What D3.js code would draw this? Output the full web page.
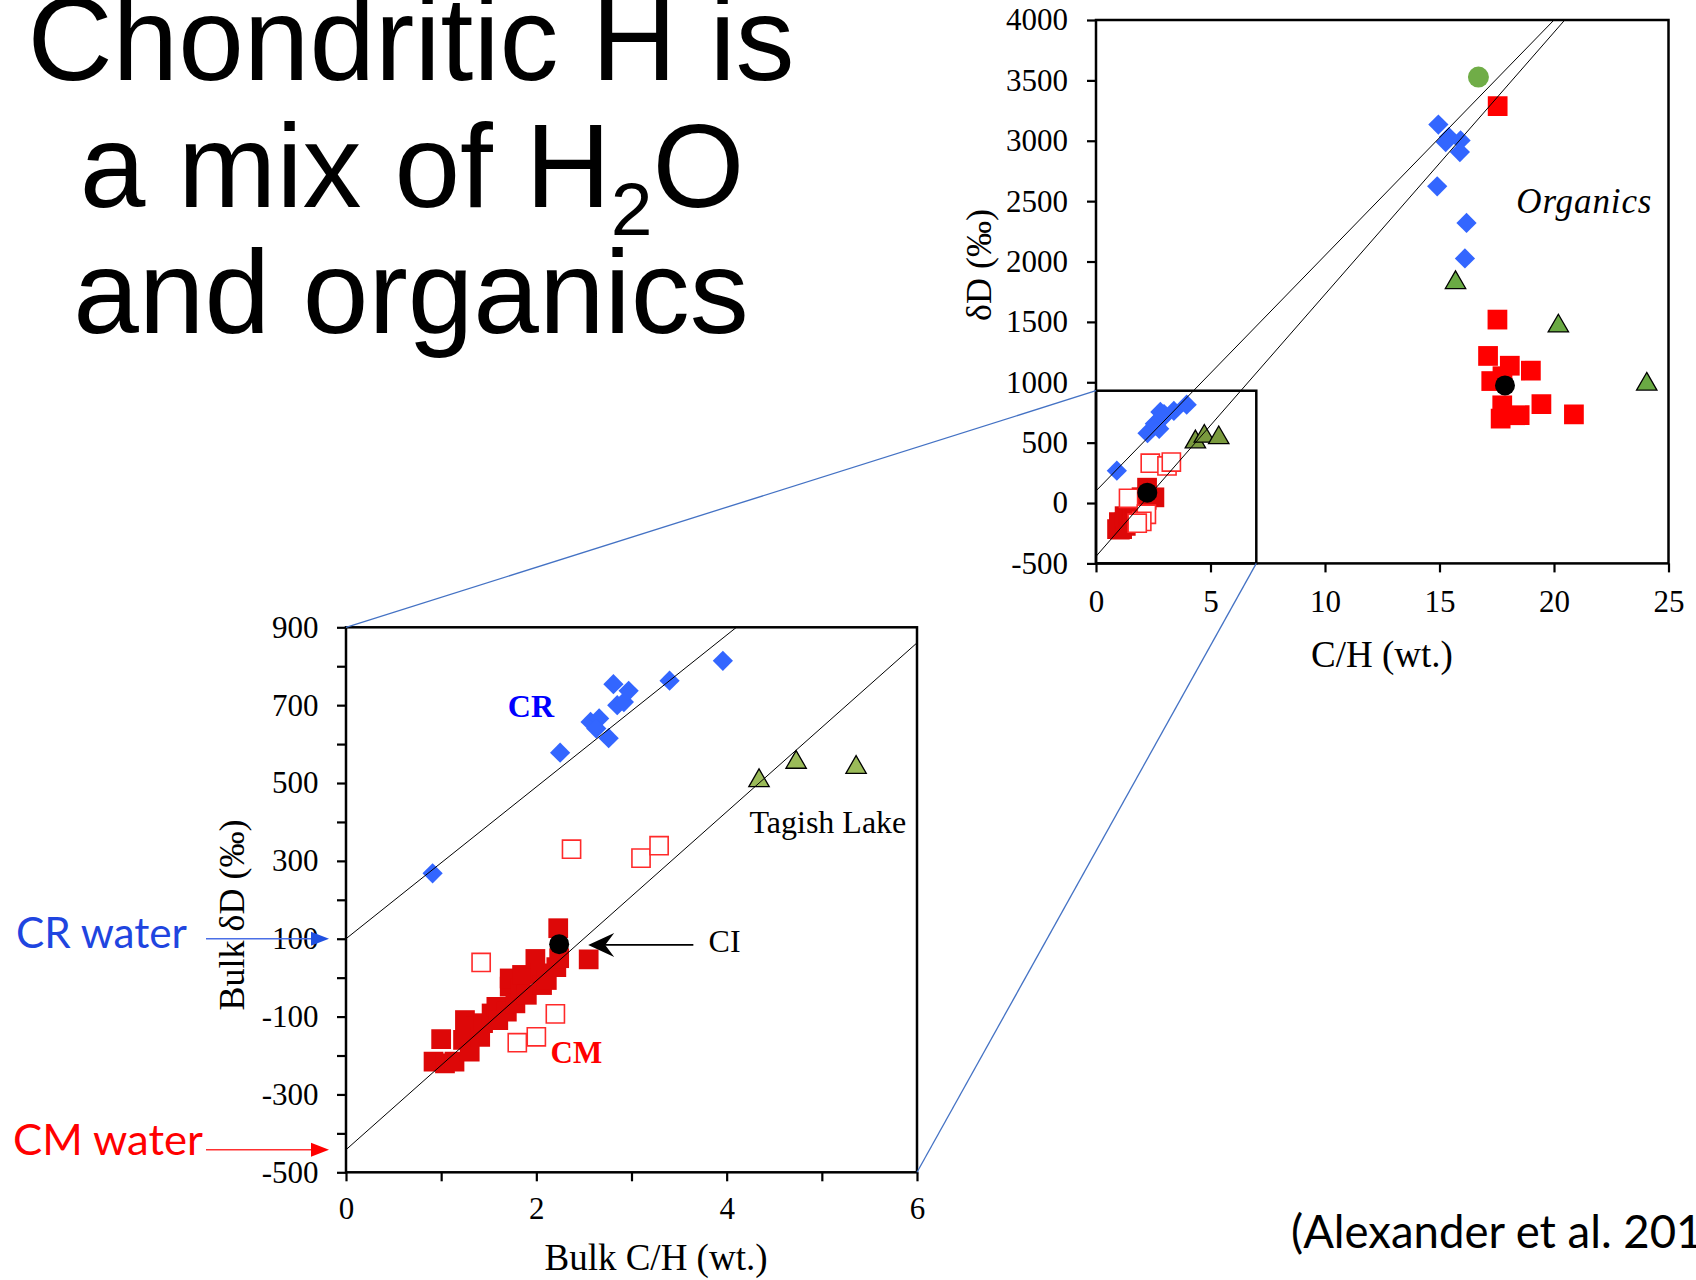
<!DOCTYPE html>
<html>
<head>
<meta charset="utf-8">
<script src="https://cdn.jsdelivr.net/npm/d3@7"></script>
<style>
  body { margin: 0; background: #fff; }
  svg { display: block; }
</style>
</head>
<body>
<svg id="chart" width="1696" height="1280"></svg>
<script>
// ---- values ----
// bulk chondrite samples (drawn in both panels)
const crBulk = [[0.91,268],[2.25,578],[2.57,657],[2.66,666],[2.63,640],[2.76,615],[2.81,754],[2.85,700],[2.92,708],[2.97,737],[3.40,763],[3.96,814]];
const cmBulkFilled = [[0.92,-216],[1.04,-220],[1.14,-216],[1.00,-158],[1.23,-160],[1.27,-134],[1.30,-190],[1.25,-109],[1.37,-126],[1.41,-152],[1.44,-117],[1.53,-92],[1.58,-75],[1.60,-109],[1.69,-87],[1.72,-23],[1.72,-2],[1.78,-66],[1.83,-27],[1.85,7],[1.90,-44],[1.99,48],[2.04,11],[2.06,-19],[2.11,-6],[2.21,27],[2.24,50],[2.23,127],[2.55,47]];
const cmBulkOpen = [[1.42,39],[2.37,330],[3.10,307],[3.29,339],[2.20,-93],[2.00,-152],[1.80,-167]];
const tagishBulk = [[4.34,506],[4.73,553],[5.36,540]];
const ciBulk = [[2.24,86]];

// insoluble organics (top panel only)
const crOrganics = [[14.95,3134],[15.41,3031],[15.27,2989],[15.92,3003],[15.89,2906],[14.90,2623],[16.18,2319],[16.11,2025]];
const cmOrganics = [[17.54,3287],[17.53,1519],[17.12,1218],[18.07,1137],[18.99,1096],[17.26,1010],[17.75,1050],[17.74,809],[18.50,727],[19.45,818],[17.67,699],[20.87,735]];
const tagishOrganics = [[15.70,1825],[20.19,1466],[24.05,984]];
const ciOrganics = [[17.86,974]];
const otherOrganics = [[16.70,3527]];

// mixing lines [intercept, slope]
const crLine = [100, 195];
const cmLine = [-442, 217];

// ticks
const bigXTicks = [0, 5, 10, 15, 20, 25];
const bigYTicks = [-500, 0, 500, 1000, 1500, 2000, 2500, 3000, 3500, 4000];
const smallXTicks = [0, 1, 2, 3, 4, 5, 6];
const smallXLabels = [0, 2, 4, 6];
const smallYTicks = [-500, -400, -300, -200, -100, 0, 100, 200, 300, 400, 500, 600, 700, 800, 900];
const smallYLabels = [-500, -300, -100, 100, 300, 500, 700, 900];

// zoom box in the big panel
const insetX = [0, 7];
const insetY = [-500, 930];

const svg = d3.select('#chart');
const SERIF = 'Liberation Serif, Times New Roman, serif';

const big = {
  x: d3.scaleLinear().domain([0, 25]).range([1096, 1668.5]),
  y: d3.scaleLinear().domain([-500, 4000]).range([563.4, 20]),
  id: 'clipBig'
};
const small = {
  x: d3.scaleLinear().domain([0, 6]).range([346, 917]),
  y: d3.scaleLinear().domain([-500, 900]).range([1172.3, 627.3]),
  id: 'clipSmall'
};

const defs = svg.append('defs');
[big, small].forEach(s => {
  defs.append('clipPath').attr('id', s.id).append('rect')
    .attr('x', s.x.range()[0]).attr('y', s.y.range()[1])
    .attr('width', s.x.range()[1] - s.x.range()[0])
    .attr('height', s.y.range()[0] - s.y.range()[1]);
});

// marker shapes
const sqPath = d3.symbol(d3.symbolSquare, 390)();
const openPath = d3.symbol(d3.symbolSquare, 330)();
const diaPath = d3.symbol(d3.symbolSquare, 205)();
const triPath = d3.symbol(d3.symbolTriangle, 180)();

function points(g, s, data, path, style, rot) {
  const sel = g.selectAll(null).data(data).enter().append('path')
    .attr('d', path)
    .attr('transform', d => `translate(${s.x(d[0])},${s.y(d[1])})` + (rot ? ' rotate(45)' : ''));
  Object.keys(style).forEach(k => sel.attr(k, style[k]));
}
function circles(g, s, data, r, fill) {
  g.selectAll(null).data(data).enter().append('circle')
    .attr('cx', d => s.x(d[0])).attr('cy', d => s.y(d[1]))
    .attr('r', r).attr('fill', fill);
}
function mixLine(g, s, line) {
  const x0 = 0;
  const xMax = s.x.domain()[1];
  const xTop = (s.y.domain()[1] - line[0]) / line[1];
  const x1 = Math.min(xMax, xTop) + 0.5;
  g.append('line')
    .attr('x1', s.x(x0)).attr('y1', s.y(line[0] + line[1] * x0))
    .attr('x2', s.x(x1)).attr('y2', s.y(line[0] + line[1] * x1))
    .attr('stroke', '#000').attr('stroke-width', 1);
}
function axes(s, xTicks, xLabels, yTicks, yLabels, xPad, yPad) {
  const bottom = s.y.range()[0], left = s.x.range()[0];
  const gx = svg.append('g').attr('transform', `translate(0,${bottom})`)
    .call(d3.axisBottom(s.x).tickValues(xTicks).tickSize(9).tickSizeOuter(0).tickPadding(xPad)
      .tickFormat(d => xLabels.includes(d) ? String(d) : ''));
  const gy = svg.append('g').attr('transform', `translate(${left},0)`)
    .call(d3.axisLeft(s.y).tickValues(yTicks).tickSize(9).tickSizeOuter(0).tickPadding(yPad)
      .tickFormat(d => yLabels.includes(d) ? String(d) : ''));
  [gx, gy].forEach(g => {
    g.select('.domain').remove();
    g.selectAll('line').attr('stroke', '#000').attr('stroke-width', 2.2);
    g.selectAll('text').attr('font-family', SERIF).attr('font-size', 31).attr('fill', '#000');
  });
  svg.append('rect')
    .attr('x', left).attr('y', s.y.range()[1])
    .attr('width', s.x.range()[1] - left).attr('height', bottom - s.y.range()[1])
    .attr('fill', 'none').attr('stroke', '#000').attr('stroke-width', 2.5);
}

// ---------- top-right panel ----------
const gBig = svg.append('g').attr('clip-path', `url(#${big.id})`);
points(gBig, big, crBulk, diaPath, {fill: '#3366FF'}, true);
points(gBig, big, cmBulkFilled, sqPath, {fill: '#DD0808'});
points(gBig, big, cmBulkOpen, openPath, {fill: '#fff', stroke: '#FF2A2A', 'stroke-width': 1.6});
points(gBig, big, tagishBulk, triPath, {fill: '#7A9A3E', stroke: '#000', 'stroke-width': 1.3});
circles(gBig, big, ciBulk, 10, '#000');
points(gBig, big, crOrganics, diaPath, {fill: '#3366FF'}, true);
points(gBig, big, cmOrganics, sqPath, {fill: '#FF0000'});
points(gBig, big, tagishOrganics, triPath, {fill: '#6AAA44', stroke: '#000', 'stroke-width': 1.3});
circles(gBig, big, ciOrganics, 10, '#000');
circles(gBig, big, otherOrganics, 10.5, '#70AD47');
mixLine(gBig, big, crLine);
mixLine(gBig, big, cmLine);

axes(big, bigXTicks, bigXTicks, bigYTicks, bigYTicks, 18, 19);

// zoom box
svg.append('rect')
  .attr('x', big.x(insetX[0])).attr('y', big.y(insetY[1]))
  .attr('width', big.x(insetX[1]) - big.x(insetX[0]))
  .attr('height', big.y(insetY[0]) - big.y(insetY[1]))
  .attr('fill', 'none').attr('stroke', '#000').attr('stroke-width', 2.5);

svg.append('text').attr('x', big.x(18.35)).attr('y', big.y(2402))
  .attr('font-family', SERIF).attr('font-style', 'italic').attr('font-size', 35)
  .attr('letter-spacing', 0.9).text('Organics');

svg.append('text').attr('x', 1382).attr('y', 667).attr('text-anchor', 'middle')
  .attr('font-family', SERIF).attr('font-size', 37).text('C/H (wt.)');
svg.append('text').attr('transform', 'translate(991,265) rotate(-90)').attr('text-anchor', 'middle')
  .attr('font-family', SERIF).attr('font-size', 36).text('δD (‰)');

// ---------- bottom-left panel ----------
const gSmall = svg.append('g').attr('clip-path', `url(#${small.id})`);
points(gSmall, small, crBulk, diaPath, {fill: '#3366FF'}, true);
points(gSmall, small, cmBulkFilled, sqPath, {fill: '#DD0808'});
points(gSmall, small, cmBulkOpen, openPath, {fill: '#fff', stroke: '#FF2A2A', 'stroke-width': 1.6});
points(gSmall, small, tagishBulk, triPath, {fill: '#9BBB59', stroke: '#000', 'stroke-width': 1.3});
circles(gSmall, small, ciBulk, 10, '#000');
mixLine(gSmall, small, crLine);
mixLine(gSmall, small, cmLine);

axes(small, smallXTicks, smallXLabels, smallYTicks, smallYLabels, 16, 18.5);

svg.append('text').attr('x', 656).attr('y', 1270).attr('text-anchor', 'middle')
  .attr('font-family', SERIF).attr('font-size', 37).text('Bulk C/H (wt.)');
svg.append('text').attr('transform', 'translate(244,915) rotate(-90)').attr('text-anchor', 'middle')
  .attr('font-family', SERIF).attr('font-size', 36).text('Bulk δD (‰)');

// annotations
svg.append('text').attr('x', small.x(1.70)).attr('y', small.y(670))
  .attr('font-family', SERIF).attr('font-weight', 'bold').attr('font-size', 32)
  .attr('fill', '#0000FF').text('CR');
svg.append('text').attr('x', small.x(2.15)).attr('y', small.y(-220))
  .attr('font-family', SERIF).attr('font-weight', 'bold').attr('font-size', 31)
  .attr('fill', '#FF0000').text('CM');
svg.append('text').attr('x', small.x(4.24)).attr('y', small.y(372))
  .attr('font-family', SERIF).attr('font-size', 32).text('Tagish Lake');
svg.append('text').attr('x', small.x(3.81)).attr('y', small.y(67))
  .attr('font-family', SERIF).attr('font-size', 32).text('CI');

// CI arrow
const tipX = small.x(2.545), tipY = small.y(84);
svg.append('line').attr('x1', tipX + 15).attr('y1', tipY).attr('x2', small.x(3.65)).attr('y2', tipY)
  .attr('stroke', '#000').attr('stroke-width', 1.8);
svg.append('path')
  .attr('d', `M${tipX},${tipY} L${tipX + 26},${tipY - 12} L${tipX + 17},${tipY} L${tipX + 26},${tipY + 12} Z`)
  .attr('fill', '#000');

// water arrows pointing at the line intercepts
function waterArrow(label, yVal, lineColor, headColor, textColor, textLen, textY) {
  const yy = small.y(yVal);
  const tip = small.x(0) - 17;
  svg.append('line').attr('x1', 206).attr('y1', yy).attr('x2', tip - 12).attr('y2', yy)
    .attr('stroke', lineColor).attr('stroke-width', 1.6);
  svg.append('path').attr('d', `M${tip},${yy} L${tip - 18},${yy - 7} L${tip - 18},${yy + 7} Z`)
    .attr('fill', headColor);
  svg.append('text').attr('x', yVal > 0 ? 16 : 13).attr('y', textY)
    .attr('font-family', 'Lato, Open Sans, sans-serif').attr('font-size', 42)
    .attr('textLength', textLen).attr('lengthAdjust', 'spacingAndGlyphs')
    .attr('fill', textColor).text(label);
}
waterArrow('CR water', crLine[0], '#4A6FE6', '#2050E0', '#1F45E0', 171, 948);
waterArrow('CM water', cmLine[0], '#FF3030', '#FF0000', '#FF0000', 190, 1155);

// connector lines between the zoom box and the lower panel
svg.append('line')
  .attr('x1', big.x(insetX[0])).attr('y1', big.y(insetY[1]))
  .attr('x2', small.x(0)).attr('y2', small.y(900))
  .attr('stroke', '#4472C4').attr('stroke-width', 1.3);
svg.append('line')
  .attr('x1', big.x(insetX[1])).attr('y1', big.y(insetY[0]))
  .attr('x2', small.x(6)).attr('y2', small.y(-500))
  .attr('stroke', '#4472C4').attr('stroke-width', 1.3);

// ---------- slide title & reference ----------
const title = svg.append('text').attr('text-anchor', 'middle')
  .attr('font-family', 'Liberation Sans, Arial, sans-serif').attr('font-size', 118).attr('fill', '#000');
title.append('tspan').attr('x', 411).attr('y', 80).text('Chondritic H is');
const l2 = title.append('tspan').attr('x', 412).attr('y', 207);
l2.append('tspan').text('a mix of H');
l2.append('tspan').attr('font-size', 75).attr('dy', 28).text('2');
l2.append('tspan').attr('dy', -28).text('O');
title.append('tspan').attr('x', 411).attr('y', 333).text('and organics');

svg.append('text').attr('x', 1291).attr('y', 1248)
  .attr('font-family', 'Lato, Open Sans, sans-serif').attr('font-size', 46)
  .attr('textLength', 450).attr('lengthAdjust', 'spacingAndGlyphs')
  .text('(Alexander et al. 2012)');
</script>
</body>
</html>
